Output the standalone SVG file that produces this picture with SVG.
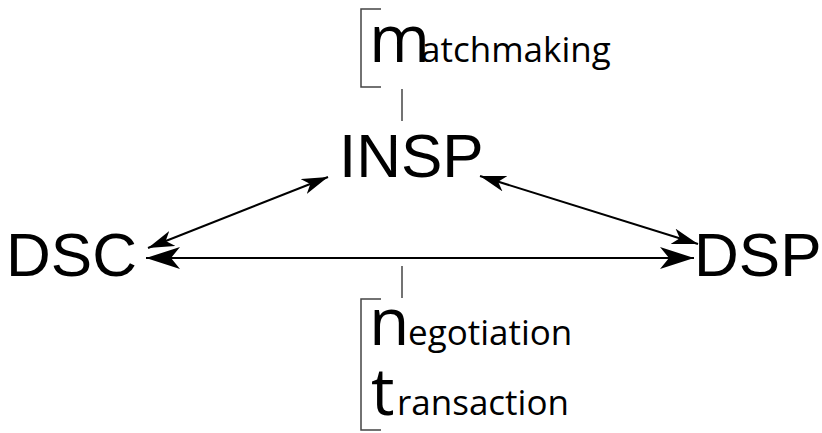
<svg xmlns="http://www.w3.org/2000/svg" width="822" height="433" viewBox="0 0 822 433">
  <defs>
    <style>
      .node { font-family: "Liberation Sans", Arial, sans-serif; font-size: 62px; fill: #000; }
      .cap { font-family: "Open Sans", "Noto Sans", sans-serif; fill: #000; }
      .big { font-size: 66px; }
      .small { font-size: 35px; }
      .conn { stroke: #000; stroke-width: 2; fill: none; }
      .brk { stroke: #444; stroke-width: 1.5; fill: none; }
    </style>
    <marker id="headS" viewBox="0 0 26 16" refX="26" refY="8" markerWidth="26" markerHeight="16" markerUnits="userSpaceOnUse" orient="auto-start-reverse">
      <path d="M0,0 L26,8 L0,16 L7,8 Z" fill="#000"/>
    </marker>
    <marker id="headL" viewBox="0 0 34 22" refX="34" refY="11" markerWidth="34" markerHeight="22" markerUnits="userSpaceOnUse" orient="auto-start-reverse">
      <path d="M0,0 L34,11 L0,22 L9,11 Z" fill="#000"/>
    </marker>
  </defs>

  <g id="connectors">
    <line class="conn" x1="148" y1="248" x2="328" y2="177" marker-start="url(#headS)" marker-end="url(#headS)"/>
    <line class="conn" x1="480" y1="176" x2="698" y2="244" marker-start="url(#headS)" marker-end="url(#headS)"/>
    <line class="conn" x1="146" y1="258" x2="694" y2="258" marker-start="url(#headL)" marker-end="url(#headL)"/>
  </g>

  <g id="INSP">
    <text class="node" x="339" y="177">INSP</text>
  </g>
  <g id="DSC">
    <text class="node" x="6" y="276">DSC</text>
  </g>
  <g id="DSP">
    <text class="node" x="694" y="276">DSP</text>
  </g>

  <g id="matchmaking">
    <path class="brk" d="M381,9 H361 V87 H381"/>
    <line class="brk" x1="402" y1="89" x2="402" y2="121"/>
    <text class="cap" y="62"><tspan class="big" x="369">m</tspan><tspan class="small" x="421">atchmaking</tspan></text>
  </g>

  <g id="negotiation">
    <line class="brk" x1="402" y1="266" x2="402" y2="298"/>
    <path class="brk" d="M381,299 H361 V430 H381"/>
    <text class="cap" y="345"><tspan class="big" x="369">n</tspan><tspan class="small" x="408" font-size="38">egotiation</tspan></text>
    <text class="cap" y="415"><tspan class="big" x="371">t</tspan><tspan class="small" x="397" font-size="38">ransaction</tspan></text>
  </g>
</svg>
